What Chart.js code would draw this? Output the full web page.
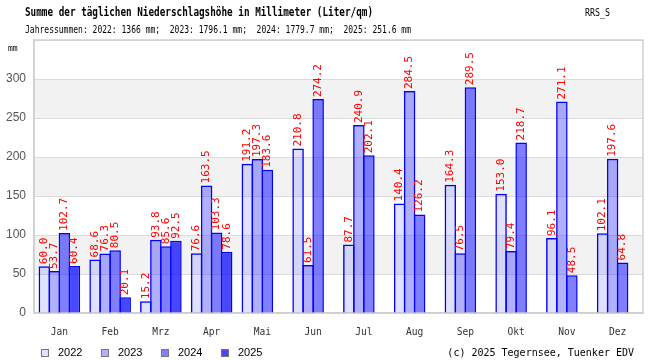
<!DOCTYPE html>
<html>
<head>
<meta charset="utf-8">
<script src="https://cdn.jsdelivr.net/npm/chart.js@4"></script>
<style>
  html, body { margin: 0; padding: 0; background: #fff; }
  #chart { display: block; }
</style>
</head>
<body>
<canvas id="chart" width="650" height="360"></canvas>
<script>
// Monatssummen Niederschlag in mm
const months = ['Jan', 'Feb', 'Mrz', 'Apr', 'Mai', 'Jun', 'Jul', 'Aug', 'Sep', 'Okt', 'Nov', 'Dez'];
const years = ['2022', '2023', '2024', '2025'];
const rain2022 = [60.0, 68.6, 15.2, 76.6, 191.2, 210.8, 87.7, 140.4, 164.3, 153.0, 96.1, 102.1];
const rain2023 = [53.7, 76.3, 93.8, 163.5, 197.3, 61.5, 240.9, 284.5, 76.5, 79.4, 271.1, 197.6];
const rain2024 = [102.7, 80.5, 85.6, 103.3, 183.6, 274.2, 202.1, 126.2, 289.5, 218.7, 48.5, 64.8];
const rain2025 = [60.4, 20.1, 92.5, 78.6, null, null, null, null, null, null, null, null];
const yearTotals = ['1366', '1796.1', '1779.7', '251.6'];
const yTicks = [0, 50, 100, 150, 200, 250, 300];

const titleText = 'Summe der täglichen Niederschlagshöhe in Millimeter (Liter/qm)';
const subtitleText = 'Jahressummen: ' + years.map((y, i) => y + ': ' + yearTotals[i] + ' mm;').join('  ').replace(/;$/, '');
const copyrightText = '(c) 2025 Tegernsee, Tuenker EDV';

const colors = ['rgba(0,0,255,0.12)', 'rgba(0,0,255,0.31)', 'rgba(0,0,255,0.5)', 'rgba(0,0,255,0.72)'];
const mono = '"DejaVu Sans Mono", monospace';

// Text schmal zeichnen (Pixelfont im Original ist sehr schmal)
function narrowText(ctx, text, x, y, width) {
  const w = ctx.measureText(text).width;
  ctx.save();
  ctx.translate(x, y);
  ctx.scale(width / w, 1);
  ctx.fillText(text, 0, 0);
  ctx.restore();
}

// graue Baender zwischen jedem zweiten Tick + Rahmen
const bandPlugin = {
  id: 'bands',
  beforeDraw(chart) {
    const { ctx, chartArea: a, scales: { y } } = chart;
    ctx.save();
    ctx.fillStyle = '#f2f2f2';
    for (let i = 0; i < yTicks.length - 1; i++) {
      if (i % 2 === 0) continue;
      const top = y.getPixelForValue(yTicks[i + 1]);
      const bot = y.getPixelForValue(yTicks[i]);
      ctx.fillRect(a.left, top, a.right - a.left, bot - top);
    }
    ctx.restore();
  },
  beforeDatasetsDraw(chart) {
    const { ctx, chartArea: a } = chart;
    ctx.save();
    ctx.strokeStyle = '#d0d0d0';
    ctx.lineWidth = 1.5;
    ctx.strokeRect(a.left, a.top, a.right - a.left, a.bottom - a.top);
    ctx.restore();
  }
};

// rote Werte senkrecht ueber den Balken
const valuePlugin = {
  id: 'values',
  afterDatasetsDraw(chart) {
    const ctx = chart.ctx;
    ctx.save();
    ctx.fillStyle = '#ff0000';
    ctx.font = '11px ' + mono;
    ctx.textAlign = 'left';
    ctx.textBaseline = 'middle';
    chart.data.datasets.forEach((ds, i) => {
      chart.getDatasetMeta(i).data.forEach((bar, j) => {
        const v = ds.data[j];
        if (v == null) return;
        ctx.save();
        ctx.translate(bar.x, bar.y - 2);
        ctx.rotate(-Math.PI / 2);
        ctx.fillText(v.toFixed(1), 0, 0);
        ctx.restore();
      });
    });
    ctx.restore();
  }
};

// Titel, Legende, Copyright
const textPlugin = {
  id: 'texts',
  afterDraw(chart) {
    const ctx = chart.ctx;
    ctx.save();
    ctx.textBaseline = 'middle';
    ctx.fillStyle = '#000';
    ctx.font = 'bold 11.5px ' + mono;
    narrowText(ctx, titleText, 25, 13, 348);
    ctx.font = '10px ' + mono;
    narrowText(ctx, 'RRS_S', 585, 13, 25);
    ctx.font = '10.5px ' + mono;
    narrowText(ctx, subtitleText, 25, 30, 386);
    ctx.font = '8px ' + mono;
    ctx.fillText('mm', 8, 49);

    ctx.font = '11px "Liberation Sans", Arial, sans-serif';
    years.forEach((yr, i) => {
      const x = 41 + i * 60;
      ctx.fillStyle = colors[i];
      ctx.fillRect(x, 349, 8, 8);
      ctx.strokeStyle = '#777';
      ctx.lineWidth = 1;
      ctx.strokeRect(x + 0.5, 349.5, 7, 7);
      ctx.fillStyle = '#000';
      ctx.fillText(yr, x + 17, 353);
    });

    ctx.font = '10px ' + mono;
    ctx.textAlign = 'right';
    ctx.fillText(copyrightText, 634, 353);
    ctx.restore();
  }
};

const datasets = [rain2022, rain2023, rain2024, rain2025].map((data, i) => ({
  label: years[i],
  data: data,
  backgroundColor: colors[i],
  borderColor: '#0000ff',
  borderWidth: 1.5,
  inflateAmount: 0,
  categoryPercentage: 0.79,
  barPercentage: 1.15
}));

new Chart(document.getElementById('chart'), {
  type: 'bar',
  data: { labels: months, datasets: datasets },
  options: {
    responsive: false,
    animation: false,
    devicePixelRatio: 1,
    layout: { padding: { left: 4, right: 7, top: 40, bottom: 0 } },
    plugins: {
      legend: { display: false },
      tooltip: { enabled: false }
    },
    scales: {
      x: {
        grid: { display: false },
        border: { color: '#d0d0d0', width: 1.5 },
        ticks: { color: '#333', font: { family: mono, size: 9.6 }, padding: 6 },
        afterFit: (s) => { s.height = 47; }
      },
      y: {
        min: 0,
        max: 350,
        ticks: {
          stepSize: 50,
          color: '#555',
          padding: 8,
          font: { family: '"Liberation Sans", Arial, sans-serif', size: 12 },
          callback: (v) => (yTicks.includes(v) ? v : '')
        },
        grid: { color: '#dcdcdc', drawTicks: false },
        border: { color: '#d0d0d0', width: 1.5 },
        afterFit: (s) => { s.width = 30; }
      }
    }
  },
  plugins: [bandPlugin, valuePlugin, textPlugin]
});
</script>
</body>
</html>
